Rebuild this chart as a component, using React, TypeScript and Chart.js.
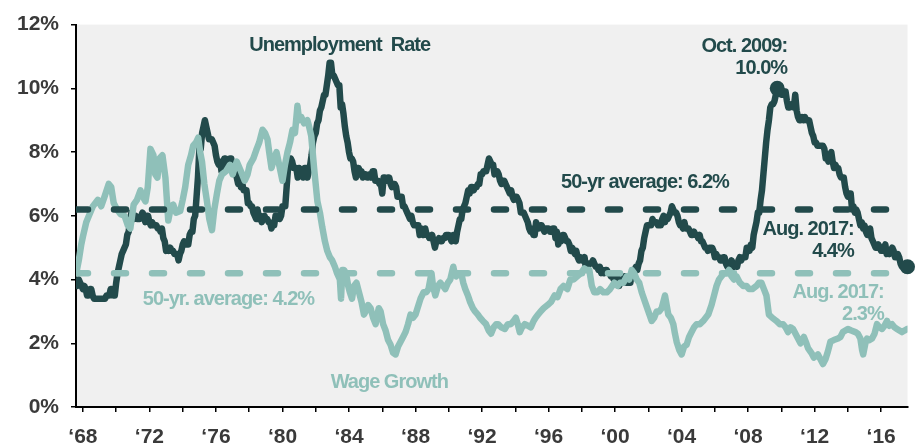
import { useEffect, useRef } from "react";
import { Chart, registerables } from "chart.js";

Chart.register(...registerables);

// ---------- DATA ----------
// Unemployment rate, monthly, starting Aug 1967
const unemployment1967to1979 = [
  3.8, 3.8, 4.0, 3.9, 3.8,
  3.7, 3.8, 3.7, 3.5, 3.5, 3.7, 3.7, 3.5, 3.4, 3.4, 3.4, 3.4,
  3.4, 3.4, 3.4, 3.4, 3.4, 3.5, 3.5, 3.5, 3.7, 3.7, 3.5, 3.5,
  3.9, 4.2, 4.4, 4.6, 4.8, 4.9, 5.0, 5.1, 5.4, 5.5, 5.9, 6.1,
  5.9, 5.9, 6.0, 5.9, 5.9, 5.9, 6.0, 6.1, 6.0, 5.8, 6.0, 6.0,
  5.8, 5.7, 5.8, 5.7, 5.7, 5.7, 5.6, 5.6, 5.5, 5.6, 5.3, 5.2,
  4.9, 5.0, 4.9, 5.0, 4.9, 4.9, 4.8, 4.8, 4.8, 4.6, 4.8, 4.9,
  5.1, 5.2, 5.1, 5.1, 5.1, 5.4, 5.5, 5.5, 5.9, 6.0, 6.6, 7.2,
  8.1, 8.1, 8.6, 8.8, 9.0, 8.8, 8.6, 8.4, 8.4, 8.4, 8.3, 8.2,
  7.9, 7.7, 7.6, 7.7, 7.4, 7.6, 7.8, 7.8, 7.6, 7.7, 7.8, 7.8,
  7.5, 7.6, 7.4, 7.2, 7.0, 7.2, 6.9, 7.0, 6.8, 6.8, 6.8, 6.4,
  6.4, 6.3, 6.3, 6.1, 6.0, 5.9, 6.2, 5.9, 6.0, 5.8, 5.9, 6.0,
  5.9, 5.9, 5.8, 5.8, 5.6, 5.7, 5.7, 6.0, 5.9, 6.0, 5.9, 6.0,
];
const unemployment1980s = [
  6.3, 6.3, 6.3, 6.9, 7.5, 7.6, 7.8, 7.7, 7.5, 7.5, 7.5, 7.2,
  7.5, 7.4, 7.4, 7.2, 7.5, 7.5, 7.2, 7.4, 7.6, 7.9, 8.3, 8.5,
  8.6, 8.9, 9.0, 9.3, 9.4, 9.6, 9.8, 9.8, 10.1, 10.4, 10.8, 10.8,
  10.4, 10.4, 10.3, 10.2, 10.1, 10.1, 9.4, 9.5, 9.2, 8.8, 8.5, 8.3,
  8.0, 7.8, 7.8, 7.7, 7.4, 7.2, 7.5, 7.5, 7.3, 7.4, 7.2, 7.3,
  7.3, 7.2, 7.2, 7.3, 7.2, 7.4, 7.4, 7.1, 7.1, 7.1, 7.0, 7.0,
  6.7, 7.2, 7.2, 7.1, 7.2, 7.2, 7.0, 6.9, 7.0, 7.0, 6.9, 6.6,
  6.6, 6.6, 6.6, 6.3, 6.3, 6.2, 6.1, 6.0, 5.9, 6.0, 5.8, 5.7,
  5.7, 5.7, 5.7, 5.4, 5.6, 5.4, 5.4, 5.6, 5.4, 5.4, 5.3, 5.3,
  5.4, 5.2, 5.0, 5.2, 5.2, 5.3, 5.2, 5.2, 5.3, 5.3, 5.4, 5.4,
];
const unemployment1990s = [
  5.4, 5.3, 5.2, 5.4, 5.4, 5.2, 5.5, 5.7, 5.9, 5.9, 6.2, 6.3,
  6.4, 6.6, 6.8, 6.7, 6.9, 6.9, 6.8, 6.9, 6.9, 7.0, 7.0, 7.3,
  7.3, 7.4, 7.4, 7.4, 7.6, 7.8, 7.7, 7.6, 7.6, 7.3, 7.4, 7.4,
  7.3, 7.1, 7.0, 7.1, 7.1, 7.0, 6.9, 6.8, 6.7, 6.8, 6.6, 6.5,
  6.6, 6.6, 6.5, 6.4, 6.1, 6.1, 6.1, 6.0, 5.9, 5.8, 5.6, 5.5,
  5.6, 5.4, 5.4, 5.8, 5.6, 5.6, 5.7, 5.7, 5.6, 5.5, 5.6, 5.6,
  5.6, 5.5, 5.5, 5.6, 5.6, 5.3, 5.5, 5.1, 5.2, 5.2, 5.4, 5.4,
  5.3, 5.2, 5.2, 5.1, 4.9, 5.0, 4.9, 4.8, 4.9, 4.7, 4.6, 4.7,
  4.6, 4.6, 4.7, 4.3, 4.4, 4.5, 4.5, 4.5, 4.6, 4.5, 4.4, 4.4,
  4.3, 4.4, 4.2, 4.3, 4.2, 4.3, 4.3, 4.2, 4.2, 4.1, 4.1, 4.0,
];
const unemployment2000s = [
  4.0, 4.1, 4.0, 3.8, 4.0, 4.0, 4.0, 4.1, 3.9, 3.9, 3.9, 3.9,
  4.2, 4.2, 4.3, 4.4, 4.3, 4.5, 4.6, 4.9, 5.0, 5.3, 5.5, 5.7,
  5.7, 5.7, 5.7, 5.9, 5.8, 5.8, 5.8, 5.7, 5.7, 5.7, 5.9, 6.0,
  5.8, 5.9, 5.9, 6.0, 6.1, 6.3, 6.2, 6.1, 6.1, 6.0, 5.8, 5.7,
  5.7, 5.6, 5.8, 5.6, 5.6, 5.6, 5.5, 5.4, 5.4, 5.5, 5.4, 5.4,
  5.3, 5.4, 5.2, 5.2, 5.1, 5.0, 5.0, 4.9, 5.0, 5.0, 5.0, 4.9,
  4.7, 4.8, 4.7, 4.7, 4.6, 4.6, 4.7, 4.7, 4.5, 4.4, 4.5, 4.4,
  4.6, 4.5, 4.4, 4.5, 4.4, 4.6, 4.7, 4.6, 4.7, 4.7, 4.7, 5.0,
  5.0, 4.9, 5.1, 5.0, 5.4, 5.6, 5.8, 6.1, 6.1, 6.5, 6.8, 7.3,
  7.8, 8.3, 8.7, 9.0, 9.4, 9.5, 9.5, 9.6, 9.8, 10.0, 9.9, 9.9,
];
const unemployment2010s = [
  9.8, 9.8, 9.9, 9.9, 9.6, 9.4, 9.4, 9.5, 9.5, 9.4, 9.8, 9.3,
  9.1, 9.0, 9.0, 9.1, 9.0, 9.1, 9.0, 9.0, 9.0, 8.8, 8.6, 8.5,
  8.3, 8.3, 8.2, 8.2, 8.2, 8.2, 8.2, 8.1, 7.8, 7.8, 7.7, 7.9,
  8.0, 7.7, 7.5, 7.6, 7.5, 7.5, 7.3, 7.2, 7.2, 7.2, 6.9, 6.7,
  6.6, 6.7, 6.7, 6.2, 6.3, 6.1, 6.2, 6.1, 5.9, 5.7, 5.8, 5.6,
  5.7, 5.5, 5.4, 5.4, 5.6, 5.3, 5.2, 5.1, 5.0, 5.0, 5.1, 5.0,
  4.9, 4.9, 5.0, 5.1, 4.8, 4.9, 4.8, 4.9, 5.0, 4.9, 4.7, 4.7,
  4.8, 4.7, 4.5, 4.4, 4.4, 4.3, 4.3, 4.4,
];

// Wage growth (year-over-year %), [decimal year, value]
const wageGrowth: [number, number][] = [
  [1967.6, 4.2], [1967.75, 4.6], [1967.9, 5.1], [1968.0, 5.35], [1968.2, 5.8], [1968.36, 6.0],
  [1968.6, 6.3], [1968.9, 6.5], [1969.1, 6.3], [1969.3, 6.6], [1969.55, 7.0], [1969.7, 6.9],
  [1969.85, 6.4], [1970.05, 6.2], [1970.27, 6.05], [1970.5, 6.0], [1970.7, 5.7], [1970.85, 5.6],
  [1971.05, 6.35], [1971.25, 6.5], [1971.46, 6.8], [1971.6, 6.6], [1971.76, 6.45], [1971.9, 6.9],
  [1972.06, 8.1], [1972.24, 7.9], [1972.35, 7.3], [1972.48, 7.2], [1972.6, 7.8], [1972.78, 7.9],
  [1972.96, 7.2], [1973.13, 5.85], [1973.3, 6.3], [1973.43, 6.35], [1973.6, 6.1], [1973.85, 6.15],
  [1974.0, 6.5], [1974.15, 6.9], [1974.33, 7.6], [1974.5, 7.9], [1974.63, 8.2], [1974.8, 8.3],
  [1974.93, 8.45], [1975.05, 8.0], [1975.16, 7.7], [1975.3, 7.0], [1975.46, 6.45], [1975.6, 5.9],
  [1975.76, 5.55], [1975.9, 6.2], [1976.06, 6.7], [1976.2, 7.1], [1976.36, 7.3], [1976.6, 7.4],
  [1976.84, 7.6], [1977.0, 7.3], [1977.25, 7.7], [1977.5, 7.4], [1977.73, 7.1], [1977.9, 7.3],
  [1978.03, 7.6], [1978.25, 7.8], [1978.45, 8.1], [1978.6, 8.3], [1978.8, 8.7], [1978.95, 8.6],
  [1979.1, 8.4], [1979.2, 8.0], [1979.34, 7.5], [1979.5, 7.8], [1979.64, 8.0], [1979.8, 7.6],
  [1980.0, 7.1], [1980.15, 7.6], [1980.3, 8.0], [1980.45, 8.3], [1980.6, 8.7], [1980.75, 8.6],
  [1980.9, 9.45], [1981.0, 9.0], [1981.13, 9.1], [1981.3, 8.9], [1981.5, 9.0], [1981.6, 8.8],
  [1981.73, 8.5], [1981.9, 7.5], [1982.1, 6.45], [1982.25, 6.1], [1982.39, 5.65], [1982.55, 5.2],
  [1982.69, 4.9], [1982.85, 4.7], [1982.99, 4.6], [1983.15, 4.4], [1983.28, 4.2], [1983.45, 4.0],
  [1983.52, 3.4], [1983.6, 4.3], [1983.7, 4.3], [1983.82, 4.2], [1983.95, 3.8], [1984.05, 3.6],
  [1984.18, 3.4], [1984.3, 3.8], [1984.45, 3.9], [1984.6, 3.6], [1984.75, 3.3], [1984.9, 2.9],
  [1985.0, 3.0], [1985.15, 3.2], [1985.3, 3.1], [1985.45, 2.8], [1985.6, 2.6], [1985.79, 3.1],
  [1985.9, 3.0], [1986.05, 2.6], [1986.2, 2.4], [1986.35, 2.1], [1986.5, 1.95], [1986.65, 1.7],
  [1986.8, 1.65], [1986.95, 1.9], [1987.1, 2.05], [1987.25, 2.2], [1987.4, 2.35], [1987.55, 2.6],
  [1987.7, 2.9], [1987.85, 2.8], [1988.0, 2.9], [1988.18, 3.2], [1988.3, 3.4], [1988.48, 3.6],
  [1988.65, 3.6], [1988.78, 3.7], [1988.96, 4.2], [1989.05, 3.8], [1989.19, 3.5], [1989.35, 3.8],
  [1989.49, 3.9], [1989.65, 3.8], [1989.79, 3.7], [1989.95, 3.9], [1990.09, 4.0], [1990.27, 4.4],
  [1990.35, 4.2], [1990.45, 4.1], [1990.6, 4.2], [1990.75, 4.2], [1990.87, 3.9], [1990.99, 3.7],
  [1991.15, 3.5], [1991.28, 3.3], [1991.45, 3.1], [1991.58, 3.0], [1991.75, 2.9], [1991.88, 2.8],
  [1992.05, 2.7], [1992.24, 2.6], [1992.4, 2.4], [1992.54, 2.3], [1992.7, 2.5], [1992.85, 2.6],
  [1992.96, 2.6], [1993.15, 2.5], [1993.37, 2.45], [1993.55, 2.6], [1993.73, 2.6], [1993.9, 2.7],
  [1994.03, 2.8], [1994.15, 2.6], [1994.27, 2.35], [1994.4, 2.5], [1994.57, 2.6], [1994.75, 2.55],
  [1994.93, 2.5], [1995.1, 2.7], [1995.22, 2.8], [1995.37, 2.9], [1995.52, 3.0], [1995.7, 3.1],
  [1995.94, 3.2], [1996.15, 3.3], [1996.36, 3.5], [1996.54, 3.45], [1996.72, 3.7], [1996.9, 3.8],
  [1997.13, 3.7], [1997.31, 4.0], [1997.5, 4.0], [1997.73, 4.1], [1997.95, 4.2], [1998.15, 4.35],
  [1998.3, 4.3], [1998.45, 4.3], [1998.6, 3.8], [1998.75, 3.6], [1998.93, 3.6], [1999.1, 3.7],
  [1999.3, 3.6], [1999.5, 3.6], [1999.7, 3.7], [1999.95, 3.9], [2000.15, 3.8], [2000.3, 3.9],
  [2000.5, 3.9], [2000.7, 4.1], [2000.85, 4.0], [2001.0, 4.3], [2001.15, 4.2], [2001.3, 4.0],
  [2001.45, 3.9], [2001.6, 3.6], [2001.8, 3.3], [2002.0, 3.0], [2002.2, 2.7], [2002.35, 2.8],
  [2002.5, 3.0], [2002.65, 3.0], [2002.8, 3.1], [2003.0, 3.5], [2003.1, 3.2], [2003.2, 2.9],
  [2003.35, 2.8], [2003.5, 2.6], [2003.6, 2.3], [2003.7, 2.05], [2003.85, 1.8], [2004.0, 1.65],
  [2004.15, 1.9], [2004.3, 1.95], [2004.45, 2.2], [2004.6, 2.35], [2004.75, 2.5], [2004.9, 2.6],
  [2005.1, 2.6], [2005.3, 2.7], [2005.45, 2.8], [2005.6, 2.9], [2005.8, 3.2], [2005.95, 3.5],
  [2006.1, 3.8], [2006.25, 4.0], [2006.4, 4.1], [2006.55, 4.2], [2006.7, 4.2], [2006.85, 4.3],
  [2007.0, 4.1], [2007.15, 4.0], [2007.3, 4.1], [2007.5, 3.9], [2007.7, 3.8], [2007.9, 3.8],
  [2008.06, 3.7], [2008.25, 3.7], [2008.5, 3.8], [2008.65, 3.9], [2008.8, 3.9], [2008.95, 3.7],
  [2009.1, 3.5], [2009.25, 2.9], [2009.45, 2.8], [2009.7, 2.7], [2009.9, 2.6], [2010.1, 2.6],
  [2010.25, 2.5], [2010.4, 2.35], [2010.55, 2.5], [2010.7, 2.45], [2010.85, 2.3], [2011.0, 2.15],
  [2011.15, 2.0], [2011.35, 2.2], [2011.5, 2.0], [2011.6, 1.85], [2011.8, 1.7], [2011.95, 1.55],
  [2012.1, 1.6], [2012.2, 1.65], [2012.35, 1.5], [2012.5, 1.35], [2012.65, 1.5], [2012.8, 1.75],
  [2012.95, 2.05], [2013.15, 2.1], [2013.4, 2.15], [2013.55, 2.2], [2013.7, 2.35], [2013.85, 2.4],
  [2014.0, 2.45], [2014.2, 2.4], [2014.45, 2.35], [2014.6, 2.3], [2014.75, 2.15], [2014.85, 1.8],
  [2014.92, 1.65], [2015.05, 2.0], [2015.15, 2.15], [2015.3, 2.1], [2015.45, 2.15], [2015.6, 2.3],
  [2015.75, 2.6], [2015.9, 2.5], [2016.05, 2.45], [2016.2, 2.55], [2016.35, 2.7], [2016.5, 2.55],
  [2016.65, 2.6], [2016.8, 2.5], [2016.95, 2.45], [2017.1, 2.4], [2017.25, 2.35], [2017.4, 2.4],
  [2017.58, 2.45],
];

const unemploymentAverage = 6.2;
const wageAverage = 4.2;
const yTickValues = [0, 2, 4, 6, 8, 10, 12];
const xTickYears = [1968, 1970, 1972, 1974, 1976, 1978, 1980, 1982, 1984, 1986, 1988, 1990, 1992, 1994, 1996, 1998, 2000, 2002, 2004, 2006, 2008, 2010, 2012, 2014, 2016];
const xLabelYears = [1968, 1972, 1976, 1980, 1984, 1988, 1992, 1996, 2000, 2004, 2008, 2012, 2016];
const peakMonth = { year: 2009, month: 10 };

// ---------- STYLE ----------
const DARK = "#224a4b";
const LIGHT = "#8fc0b9";
const AXIS_TEXT = "#3a3a3a";
const FONT = "'Liberation Sans', Arial, sans-serif";
const START = 1967 + 7 / 12;
const END = 2017 + 7 / 12;
const LINE_W = 6.5;

const unemploymentRate = [
  ...unemployment1967to1979,
  ...unemployment1980s,
  ...unemployment1990s,
  ...unemployment2000s,
  ...unemployment2010s,
];

type Note = { text: string; x: number; y: number; align: CanvasTextAlign; color: string };
const notes: Note[] = [
  { text: "Unemployment  Rate", x: 1978.0, y: 11.35, align: "left", color: DARK },
  { text: "Oct. 2009:", x: 2010.34, y: 11.32, align: "right", color: DARK },
  { text: "10.0%", x: 2010.34, y: 10.62, align: "right", color: DARK },
  { text: "50-yr average: 6.2%", x: 1996.75, y: 7.05, align: "left", color: DARK },
  { text: "Aug. 2017:", x: 2014.35, y: 5.57, align: "right", color: DARK },
  { text: "4.4%", x: 2014.35, y: 4.89, align: "right", color: DARK },
  { text: "50-yr. average: 4.2%", x: 1971.6, y: 3.38, align: "left", color: LIGHT },
  { text: "Wage Growth", x: 1982.9, y: 0.77, align: "left", color: LIGHT },
  { text: "Aug. 2017:", x: 2016.15, y: 3.6, align: "right", color: LIGHT },
  { text: "2.3%", x: 2016.15, y: 2.89, align: "right", color: LIGHT },
];

export default function App() {
  const canvasRef = useRef<HTMLCanvasElement | null>(null);

  useEffect(() => {
    const canvas = canvasRef.current;
    if (!canvas) return;

    const unempPoints = unemploymentRate.map((v, i) => ({ x: 1967 + (7 + i) / 12, y: v }));
    const wagePoints = wageGrowth.map(([x, y]) => ({ x, y }));
    const peakIdx = (peakMonth.year - 1967) * 12 + (peakMonth.month - 8);
    const markerPoints = [unempPoints[peakIdx], unempPoints[unempPoints.length - 1]];

    const backgroundPlugin = {
      id: "plotBg",
      beforeDraw(chart: any) {
        const { ctx, chartArea } = chart;
        ctx.save();
        ctx.fillStyle = "#f0f0f0";
        ctx.fillRect(chartArea.left, chartArea.top, chartArea.right - chartArea.left, chartArea.bottom - chartArea.top);
        ctx.restore();
      },
    };

    const notesPlugin = {
      id: "notes",
      afterDraw(chart: any) {
        const { ctx } = chart;
        const xs = chart.scales.x;
        const ys = chart.scales.y;
        ctx.save();
        ctx.font = `bold 20px ${FONT}`;
        (ctx as any).letterSpacing = "-1px";
        ctx.textBaseline = "middle";
        for (const n of notes) {
          ctx.fillStyle = n.color;
          ctx.textAlign = n.align;
          ctx.fillText(n.text, xs.getPixelForValue(n.x), ys.getPixelForValue(n.y));
        }
        ctx.restore();
      },
    };

    const chart = new Chart(canvas, {
      type: "line",
      data: {
        datasets: [
          {
            label: "markers",
            data: markerPoints,
            showLine: false,
            pointRadius: 7.5,
            pointBackgroundColor: DARK,
            pointBorderColor: DARK,
            pointBorderWidth: 0,
            clip: false,
            order: 0,
          },
          {
            label: "Unemployment average",
            data: [{ x: START, y: unemploymentAverage }, { x: END, y: unemploymentAverage }],
            borderColor: DARK,
            borderWidth: LINE_W,
            borderDash: [12, 26],
            borderCapStyle: "round",
            pointRadius: 0,
            order: 1,
          },
          {
            label: "Wage average",
            data: [{ x: START, y: wageAverage }, { x: END, y: wageAverage }],
            borderColor: LIGHT,
            borderWidth: LINE_W,
            borderDash: [12, 26],
            borderCapStyle: "round",
            pointRadius: 0,
            order: 2,
          },
          {
            label: "Wage Growth",
            data: wagePoints,
            borderColor: LIGHT,
            borderWidth: LINE_W,
            borderJoinStyle: "round",
            borderCapStyle: "round",
            pointRadius: 0,
            tension: 0,
            order: 3,
          },
          {
            label: "Unemployment Rate",
            data: unempPoints,
            borderColor: DARK,
            borderWidth: LINE_W,
            borderJoinStyle: "round",
            borderCapStyle: "round",
            pointRadius: 0,
            tension: 0,
            order: 4,
          },
        ],
      },
      options: {
        responsive: false,
        animation: false,
        devicePixelRatio: 1,
        layout: { padding: { top: 17, right: 4, left: 0, bottom: 0 } },
        plugins: {
          legend: { display: false },
          tooltip: { enabled: false },
        },
        scales: {
          x: {
            type: "linear",
            min: START,
            max: END,
            afterBuildTicks(scale: any) {
              scale.ticks = xTickYears.map((v) => ({ value: v }));
            },
            afterFit(scale: any) {
              scale.height = 38;
            },
            ticks: {
              autoSkip: false,
              maxRotation: 0,
              minRotation: 0,
              padding: 13,
              color: AXIS_TEXT,
              font: { family: FONT, size: 21, weight: "bold" },
              callback: (v: any) => (xLabelYears.includes(Number(v)) ? "\u2018" + String(v).slice(2) : ""),
            },
            grid: {
              drawOnChartArea: false,
              drawTicks: true,
              tickLength: 5,
              color: "#000",
              lineWidth: 1.5,
            },
            border: { display: true, color: "#000", width: 2 },
          },
          y: {
            min: 0,
            max: 12,
            afterBuildTicks(scale: any) {
              scale.ticks = yTickValues.map((v) => ({ value: v }));
            },
            afterFit(scale: any) {
              scale.width = 76;
            },
            ticks: {
              padding: 12,
              color: AXIS_TEXT,
              font: { family: FONT, size: 21, weight: "bold" },
              callback: (v: any) => `${v}%`,
            },
            grid: {
              drawOnChartArea: false,
              drawTicks: true,
              tickLength: 5,
              color: "#000",
              lineWidth: 1.5,
            },
            border: { display: true, color: "#000", width: 2 },
          },
        },
      },
      plugins: [backgroundPlugin, notesPlugin],
    } as any);

    return () => chart.destroy();
  }, []);

  return (
    <div style={{ position: "fixed", left: 0, top: 0, width: 915, height: 445, background: "#fff" }}>
      <canvas ref={canvasRef} width={915} height={445} style={{ display: "block", width: 915, height: 445 }} />
    </div>
  );
}
